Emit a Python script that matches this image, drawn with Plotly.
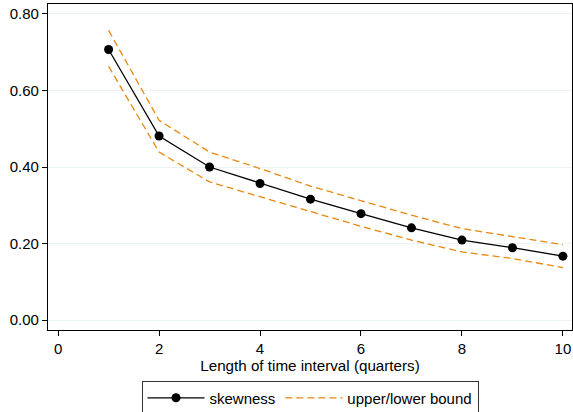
import plotly.graph_objects as go

quarters = [1, 2, 3, 4, 5, 6, 7, 8, 9, 10]
skewness = [0.707, 0.481, 0.400, 0.357, 0.316, 0.278, 0.241, 0.209, 0.189, 0.167]
upper = [0.757, 0.522, 0.439, 0.396, 0.350, 0.311, 0.274, 0.239, 0.219, 0.197]
lower = [0.663, 0.439, 0.361, 0.322, 0.284, 0.245, 0.209, 0.178, 0.161, 0.137]

x_ticks = [0, 2, 4, 6, 8, 10]
y_ticks = [0.0, 0.2, 0.4, 0.6, 0.8]

orange = "#E8870E"
fig = go.Figure()
fig.add_trace(go.Scatter(x=quarters, y=skewness, mode="lines+markers", name="skewness",
                         line=dict(color="black", width=1.3),
                         marker=dict(color="black", size=9)))
fig.add_trace(go.Scatter(x=quarters, y=upper, mode="lines", name="upper/lower bound",
                         line=dict(color=orange, width=1.3, dash="7px,4px")))
fig.add_trace(go.Scatter(x=quarters, y=lower, mode="lines", name="upper/lower bound",
                         showlegend=False,
                         line=dict(color=orange, width=1.3, dash="7px,4px")))

fig.update_layout(
    template="none",
    width=573, height=412,
    margin=dict(l=48, r=1, t=4, b=82, autoexpand=False),
    paper_bgcolor="white", plot_bgcolor="white",
    font=dict(family="Liberation Sans, Arial, sans-serif", color="black", size=14),
    showlegend=True,
    legend=dict(orientation="h", x=0.5, xanchor="center", y=-0.155, yanchor="top",
                bordercolor="#333333", borderwidth=1, font=dict(size=15),
                traceorder="normal", itemwidth=57),
    xaxis=dict(range=[-0.2, 10.18], tickvals=x_ticks, ticks="outside", ticklen=5,
               tickcolor="black", showline=True, linecolor="black", linewidth=1.2,
               mirror=True, showgrid=False, zeroline=False, automargin=False,
               title=dict(text="Length of time interval (quarters)", standoff=2,
                          font=dict(size=15.2)),
               tickfont=dict(size=15)),
    yaxis=dict(range=[-0.026, 0.826], tickvals=y_ticks, tickformat=".2f",
               ticks="outside", ticklen=5, tickcolor="black", showline=True,
               linecolor="black", linewidth=1.2, mirror=True, showgrid=True,
               gridcolor="#EAF2F3", gridwidth=1, zeroline=False, automargin=False,
               tickfont=dict(size=15)),
)

fig.write_html("out.html", config={"displayModeBar": False},
               post_script="document.body.style.margin='0';")
